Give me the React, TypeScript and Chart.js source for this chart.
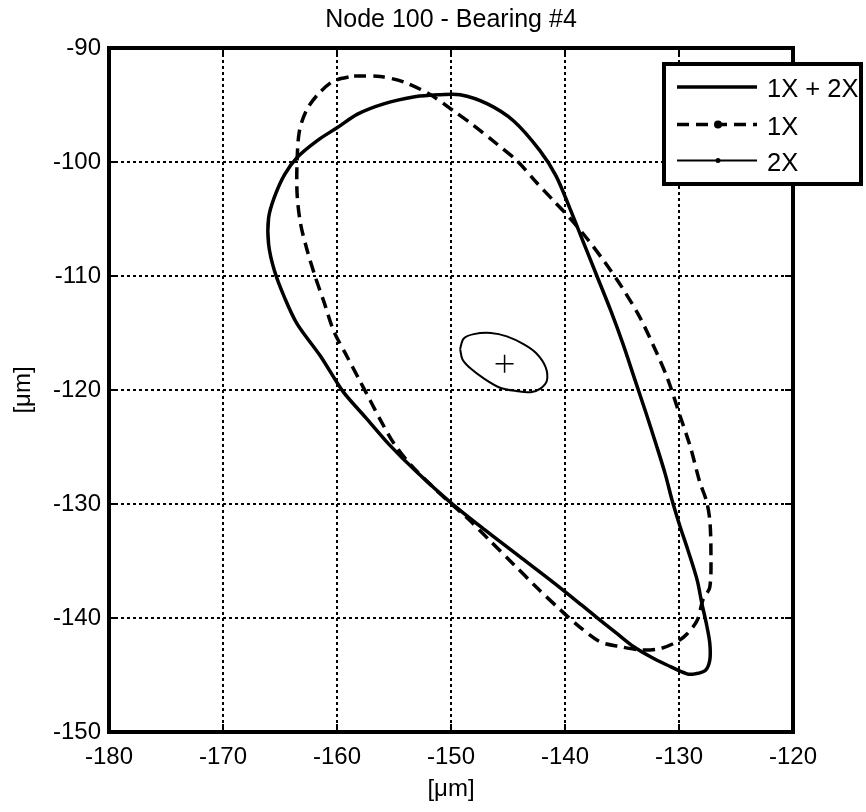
import React, { useEffect, useRef } from "react";
import { Chart, registerables } from "chart.js";

Chart.register(...registerables);

const FONT = "'Liberation Sans', Arial, Helvetica, sans-serif";

const titleText = "Node 100 - Bearing #4";
const xAxisLabel = "[\u03bcm]";
const yAxisLabel = "[\u03bcm]";
const xTicks = [-180, -170, -160, -150, -140, -130, -120];
const yTicks = [-150, -140, -130, -120, -110, -100, -90];
const seriesLabels = ["1X + 2X", "1X", "2X"];

// 1X + 2X orbit (solid)
const sumX = [
  -151.2, -149.2, -146.8, -144.5, -142.2, -140.8, -139.6, -138.4, -137.2, -136.0,
  -134.9, -133.9, -132.9, -132.0, -131.2, -130.6, -129.9, -129.2, -128.4, -128.0,
  -127.6, -127.3, -127.3, -127.7, -128.6, -129.3, -131.1, -132.5, -134.0, -135.4,
  -136.9, -138.5, -141.0, -144.0, -147.0, -150.0, -153.0, -155.5, -157.5, -159.5,
  -161.4, -163.5, -164.6, -165.5, -166.0, -166.0, -165.5, -164.6, -163.5, -161.7,
  -160.0, -158.2, -155.9, -153.3,
];
const sumY = [
  -94.1, -94.1, -94.9, -96.4, -99.0, -101.2, -104.0, -107.0, -110.0, -113.0,
  -116.0, -119.0, -122.0, -124.8, -127.4, -129.7, -132.0, -134.1, -136.7, -138.7,
  -140.5, -142.2, -143.7, -144.6, -144.9, -144.9, -144.1, -143.4, -142.5, -141.4,
  -140.2, -138.9, -136.9, -134.6, -132.3, -129.9, -127.2, -124.7, -122.4, -120.1,
  -117.1, -114.2, -111.9, -109.5, -107.2, -104.9, -103.1, -101.1, -99.6, -98.1,
  -97.0, -95.8, -94.9, -94.3,
];

// 1X orbit (dashed)
const oneX_X = [
  -158.5, -156.2, -154.1, -151.8, -149.8, -148.0, -146.0, -144.2, -142.5, -141.0,
  -139.5, -138.0, -136.5, -135.0, -133.5, -132.2, -131.0, -130.0, -129.0, -128.2,
  -127.6, -127.3, -127.2, -127.3, -127.9, -128.4, -129.3, -130.2, -131.7, -133.4,
  -135.2, -136.9, -138.7, -140.5, -142.5, -144.5, -146.5, -148.5, -150.3, -151.8,
  -153.5, -155.0, -156.1, -157.1, -158.1, -159.1, -160.3, -161.1, -161.9, -162.6,
  -163.2, -163.5, -163.5, -163.3, -162.7, -161.7, -160.3,
];
const oneX_Y = [
  -92.45, -92.5, -93.0, -94.1, -95.5, -96.8, -98.4, -99.9, -101.8, -103.4,
  -105.0, -106.8, -108.8, -111.0, -113.5, -116.2, -119.0, -122.0, -125.0, -128.0,
  -129.7, -131.4, -134.1, -137.3, -138.4, -140.2, -141.4, -142.1, -142.7, -142.8,
  -142.5, -142.1, -140.8, -139.2, -137.3, -135.3, -133.3, -131.3, -129.7, -128.3,
  -126.6, -124.7, -122.8, -120.9, -119.0, -117.1, -114.8, -112.4, -110.1, -107.8,
  -105.4, -102.8, -99.9, -97.3, -95.5, -94.1, -92.9,
];

// 2X orbit (thin)
const twoX_X = [
  -149.2, -148.9, -148.0, -146.5, -145.1, -143.6, -142.5, -141.7, -141.6, -142.2,
  -143.0, -144.2, -145.7, -147.1, -148.3, -149.0,
];
const twoX_Y = [
  -116.4, -115.5, -115.1, -115.0, -115.3, -116.0, -116.8, -118.0, -119.2, -119.9,
  -120.2, -120.1, -119.8, -119.0, -118.1, -117.3,
];

// orbit centre marker
const centreX = [-145.3];
const centreY = [-117.7];

function loop(xs: number[], ys: number[], close: boolean) {
  const pts = xs.map((x, i) => ({ x, y: ys[i] }));
  if (close && pts.length) pts.push({ ...pts[0] });
  return pts;
}

const framePlugin = {
  id: "matlabFrame",
  afterDatasetsDraw(chart: any) {
    const { ctx, chartArea, scales } = chart;
    const { left, right, top, bottom } = chartArea;
    const xs = scales.x;
    const ys = scales.y;
    ctx.save();
    ctx.strokeStyle = "#000";
    ctx.setLineDash([]);
    ctx.lineWidth = 2;
    ctx.beginPath();
    const tl = 8;
    xTicks.forEach((v) => {
      const p = Math.round(xs.getPixelForValue(v));
      ctx.moveTo(p, bottom);
      ctx.lineTo(p, bottom - tl);
      ctx.moveTo(p, top);
      ctx.lineTo(p, top + tl);
    });
    yTicks.forEach((v) => {
      const p = Math.round(ys.getPixelForValue(v));
      ctx.moveTo(left, p);
      ctx.lineTo(left + tl, p);
      ctx.moveTo(right, p);
      ctx.lineTo(right - tl, p);
    });
    ctx.stroke();
    ctx.lineWidth = 4;
    ctx.strokeRect(left, top, right - left, bottom - top);
    ctx.restore();
  },
  afterDraw(chart: any) {
    const { ctx } = chart;
    const ds = chart.data.datasets;
    ctx.save();
    // legend box
    const bx = 664, by = 64, bw = 197, bh = 120;
    ctx.fillStyle = "#fff";
    ctx.fillRect(bx, by, bw, bh);
    ctx.strokeStyle = "#000";
    ctx.lineWidth = 4;
    ctx.setLineDash([]);
    ctx.strokeRect(bx, by, bw, bh);
    const lineY = [87, 124.5, 160.5];
    const textY = [90, 128, 163.5];
    const markerR = [0, 4, 2.5];
    const x0 = 677, x1 = 757, xm = 718;
    for (let i = 0; i < 3; i++) {
      const d = ds[i];
      ctx.beginPath();
      ctx.lineWidth = d.borderWidth;
      ctx.setLineDash(d.borderDash || []);
      ctx.moveTo(x0, lineY[i]);
      ctx.lineTo(x1, lineY[i]);
      ctx.stroke();
      ctx.setLineDash([]);
      if (markerR[i] > 0) {
        ctx.beginPath();
        ctx.fillStyle = "#000";
        ctx.arc(xm, lineY[i], markerR[i], 0, Math.PI * 2);
        ctx.fill();
      }
      ctx.fillStyle = "#000";
      ctx.font = `25.5px ${FONT}`;
      ctx.textAlign = "left";
      ctx.textBaseline = "middle";
      ctx.fillText(seriesLabels[i], 767, textY[i]);
    }
    ctx.restore();
  },
};

export default function App() {
  const canvasRef = useRef<HTMLCanvasElement | null>(null);

  useEffect(() => {
    const canvas = canvasRef.current;
    if (!canvas) return;
    const chart = new Chart(canvas, {
      type: "scatter",
      data: {
        datasets: [
          {
            label: seriesLabels[0],
            data: loop(sumX, sumY, true),
            showLine: true,
            borderColor: "#000",
            backgroundColor: "#000",
            borderWidth: 3.5,
            pointRadius: 0,
            tension: 0.3,
            fill: false,
          },
          {
            label: seriesLabels[1],
            data: loop(oneX_X, oneX_Y, true),
            showLine: true,
            borderColor: "#000",
            backgroundColor: "#000",
            borderWidth: 3.5,
            borderDash: [12, 7],
            pointRadius: 0,
            tension: 0.3,
            fill: false,
          },
          {
            label: seriesLabels[2],
            data: loop(twoX_X, twoX_Y, true),
            showLine: true,
            borderColor: "#000",
            backgroundColor: "#000",
            borderWidth: 2,
            pointRadius: 0,
            tension: 0.3,
            fill: false,
          },
          {
            label: "centre",
            data: loop(centreX, centreY, false),
            showLine: false,
            borderColor: "#000",
            backgroundColor: "#000",
            pointStyle: "cross",
            pointRadius: 9,
            pointBorderWidth: 1.5,
            borderWidth: 1.5,
          },
        ],
      },
      options: {
        responsive: false,
        animation: false,
        devicePixelRatio: 1,
        layout: { padding: { left: 0, right: 73, top: 0, bottom: 0 } },
        plugins: {
          legend: { display: false },
          tooltip: { enabled: false },
          title: {
            display: true,
            text: titleText,
            fullSize: false,
            color: "#000",
            font: { family: FONT, size: 25, weight: "normal" },
            padding: { top: 5, bottom: 13 },
          },
        },
        scales: {
          x: {
            type: "linear",
            min: -180,
            max: -120,
            afterFit: (s: any) => {
              s.height = 80;
            },
            afterBuildTicks: (s: any) => {
              s.ticks = xTicks.map((v) => ({ value: v }));
            },
            ticks: {
              color: "#000",
              padding: 11,
              font: { family: FONT, size: 24 },
              maxRotation: 0,
              callback: (v: any) => String(v),
            },
            grid: {
              color: "#000",
              lineWidth: 2,
              drawTicks: false,
            },
            border: { display: false, dash: [3, 3] },
            title: {
              display: true,
              text: xAxisLabel,
              color: "#000",
              font: { family: FONT, size: 24 },
              padding: { top: 0, bottom: 8 },
            },
          },
          y: {
            type: "linear",
            min: -150,
            max: -90,
            afterFit: (s: any) => {
              s.width = 109;
            },
            afterBuildTicks: (s: any) => {
              s.ticks = yTicks.map((v) => ({ value: v }));
            },
            ticks: {
              color: "#000",
              padding: 8,
              font: { family: FONT, size: 24 },
              callback: (v: any) => String(v),
            },
            grid: {
              color: "#000",
              lineWidth: 2,
              drawTicks: false,
            },
            border: { display: false, dash: [3, 3] },
            title: {
              display: true,
              text: yAxisLabel,
              color: "#000",
              font: { family: FONT, size: 24 },
              padding: { top: 9, bottom: 0 },
            },
          },
        },
      },
      plugins: [framePlugin],
    } as any);
    return () => chart.destroy();
  }, []);

  return (
    <div style={{ position: "fixed", left: 0, top: 0, width: 866, height: 812, background: "#fff" }}>
      <canvas ref={canvasRef} width={866} height={812} style={{ display: "block" }} />
    </div>
  );
}
